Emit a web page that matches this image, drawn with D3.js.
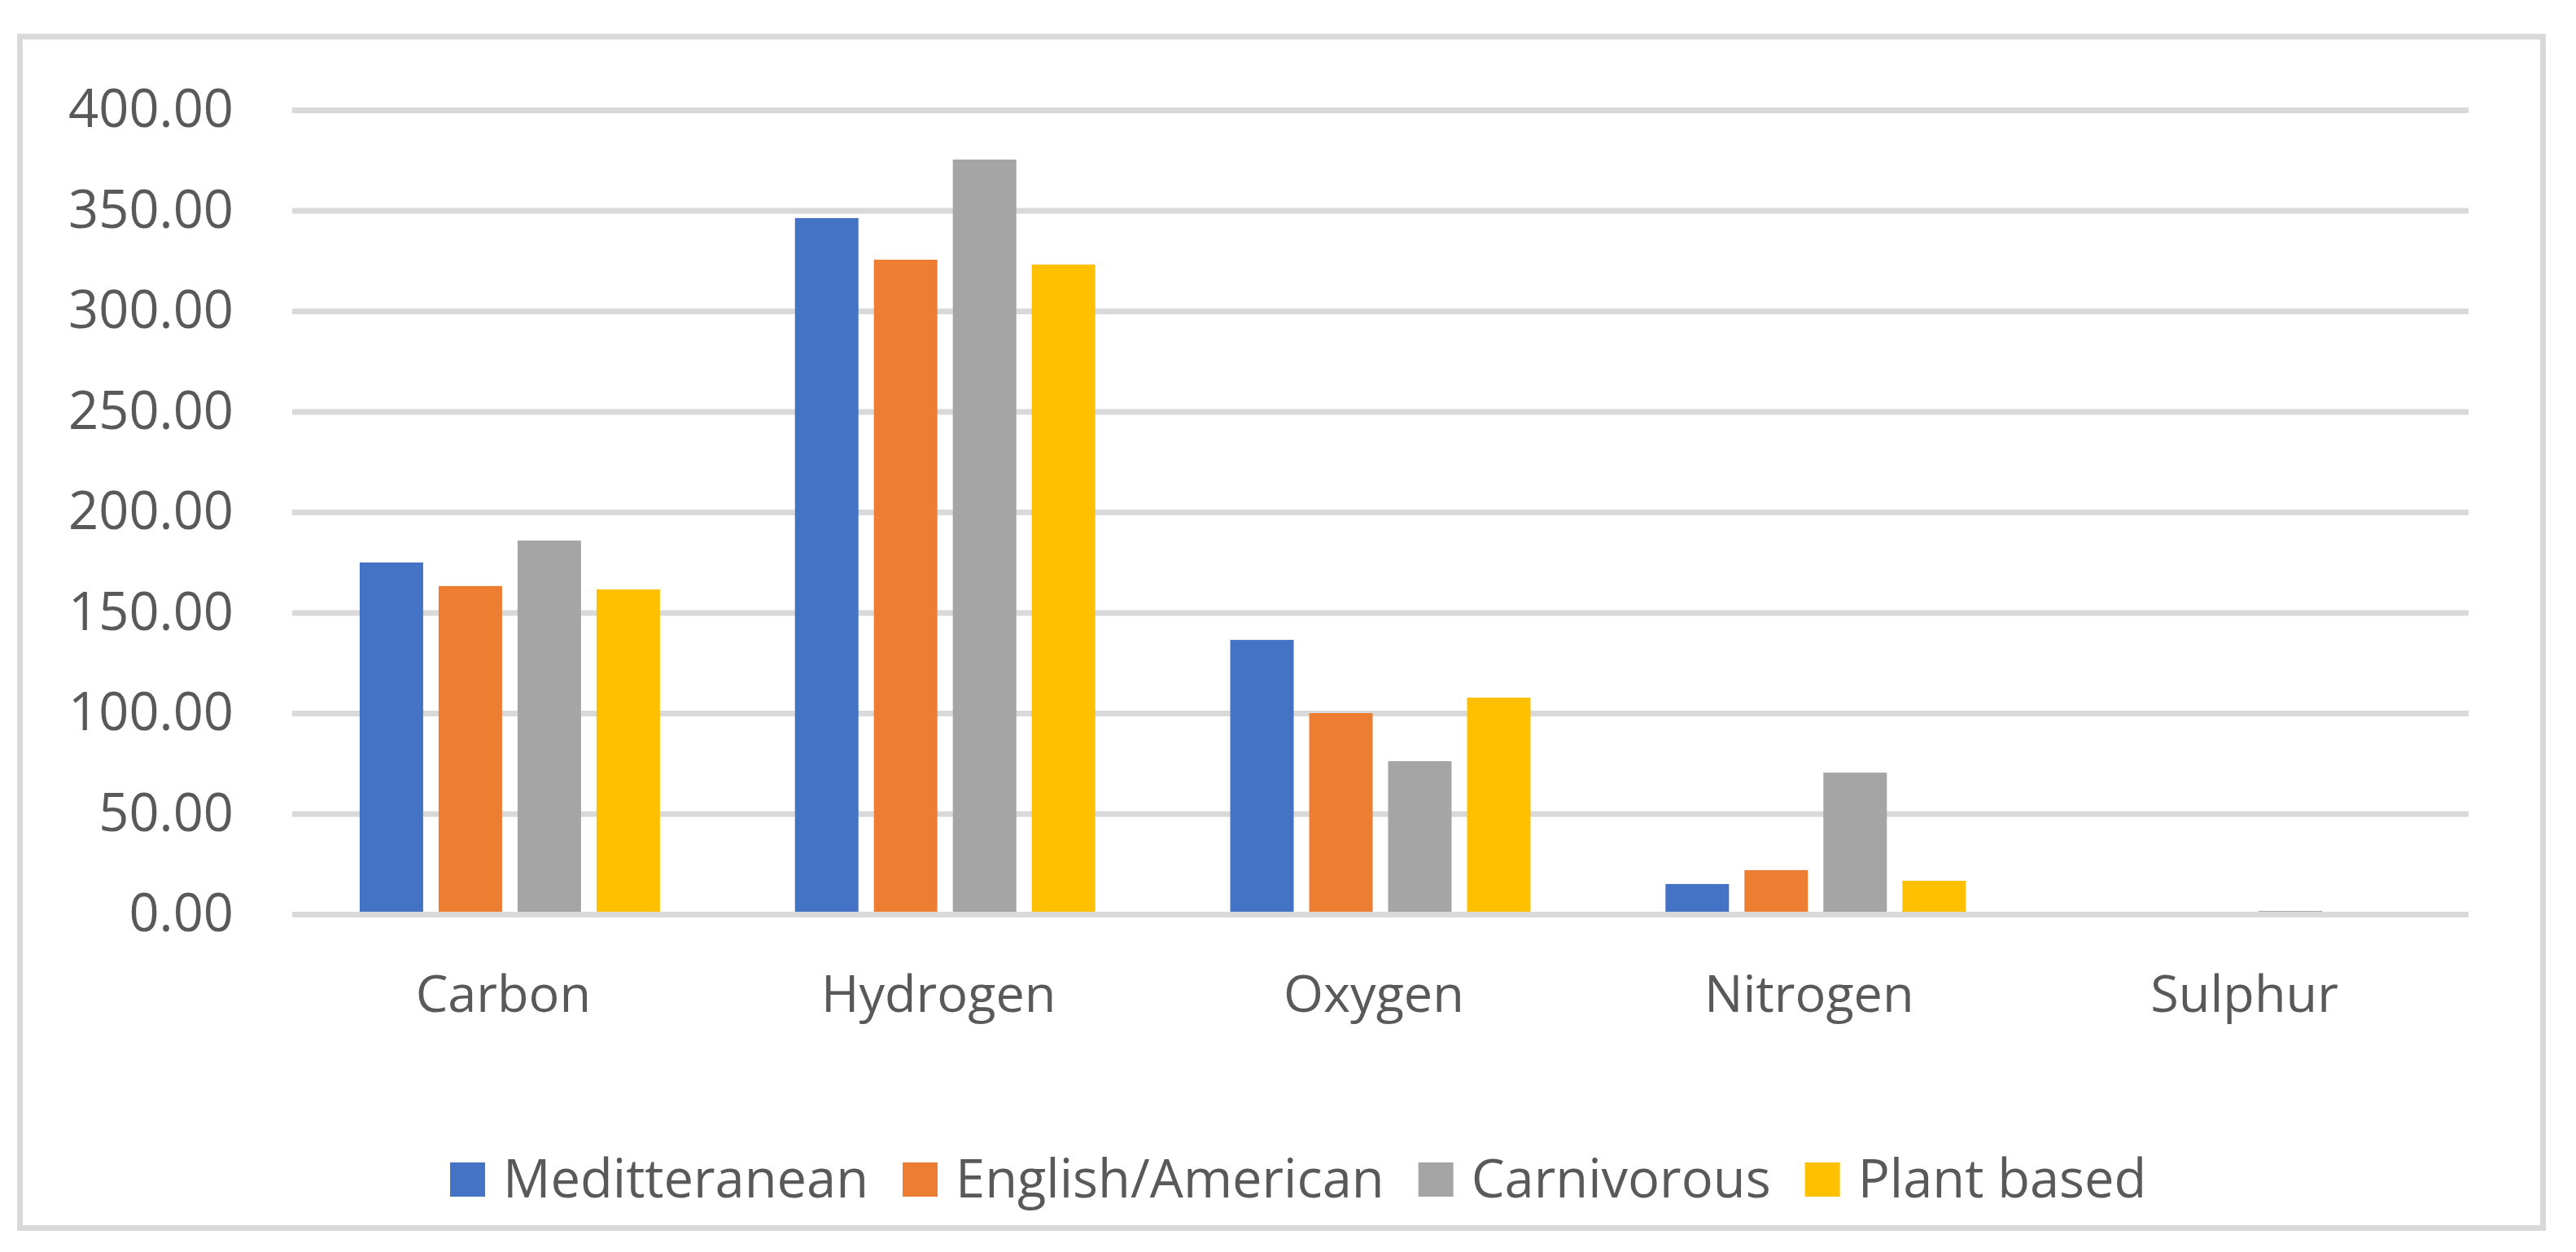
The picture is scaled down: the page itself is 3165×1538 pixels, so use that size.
<!DOCTYPE html>
<html>
<head>
<meta charset="utf-8">
<script src="https://cdn.jsdelivr.net/npm/d3@7"></script>
<style>
  html, body { margin: 0; padding: 0; background: #ffffff; }
  svg { display: block; }
  text { font-family: "Open Sans", "Noto Sans", sans-serif; fill: #595959; }
</style>
</head>
<body>
<svg id="chart" width="3165" height="1538"></svg>
<script>
// ---- data ----
const categories = ["Carbon", "Hydrogen", "Oxygen", "Nitrogen", "Sulphur"];
const seriesNames = ["Meditteranean", "English/American", "Carnivorous", "Plant based"];
const seriesColors = ["#4472C4", "#ED7D31", "#A5A5A5", "#FFC000"];
const mediterranean   = [175.1, 346.4, 136.6, 15.2, 0.1];
const englishAmerican = [163.4, 325.7, 100.2, 22.1, 0.1];
const carnivorous     = [186.0, 375.5, 76.3, 70.6, 1.8];
const plantBased      = [161.7, 323.3, 107.9, 16.8, 0.1];
const seriesValues = [mediterranean, englishAmerican, carnivorous, plantBased];
const yTicks = [0, 50, 100, 150, 200, 250, 300, 350, 400];

// ---- layout ----
const svg = d3.select("#chart");
const plot = { left: 359, right: 3033, top: 135.5, bottom: 1123.5 };

svg.append("rect")
  .attr("x", 24.5).attr("y", 45)
  .attr("width", 3100).attr("height", 1463.5)
  .attr("fill", "#ffffff")
  .attr("stroke", "#D9D9D9").attr("stroke-width", 7);

const x0 = d3.scaleBand().domain(categories).range([plot.left, plot.right]).paddingInner(0).paddingOuter(0);
const x1 = d3.scaleBand().domain(seriesNames).range([0, x0.bandwidth()]).paddingInner(0.196).paddingOuter(0.855);
const y = d3.scaleLinear().domain([0, 400]).range([plot.bottom, plot.top]);

// gridlines
svg.append("g").selectAll("line").data(yTicks.filter(d => d !== 0)).join("line")
  .attr("x1", plot.left).attr("x2", plot.right)
  .attr("y1", d => y(d)).attr("y2", d => y(d))
  .attr("stroke", "#D9D9D9").attr("stroke-width", 7);

// y tick labels
const fmt = d3.format(".2f");
svg.append("g").selectAll("text").data(yTicks).join("text")
  .attr("x", 287).attr("y", d => y(d) - 2)
  .attr("dy", "0.35em")
  .attr("text-anchor", "end")
  .attr("font-size", 65)
  .text(d => fmt(d));

// bars
const flat = [];
categories.forEach((c, ci) => seriesNames.forEach((s, si) => flat.push({ c, s, si, v: seriesValues[si][ci] })));
svg.append("g").selectAll("rect").data(flat).join("rect")
  .attr("x", d => x0(d.c) + x1(d.s))
  .attr("width", x1.bandwidth())
  .attr("y", d => y(d.v))
  .attr("height", d => y(0) - y(d.v))
  .attr("fill", d => seriesColors[d.si]);

// zero axis line
svg.append("line")
  .attr("x1", plot.left).attr("x2", plot.right)
  .attr("y1", y(0)).attr("y2", y(0))
  .attr("stroke", "#D9D9D9").attr("stroke-width", 7);

// category labels
svg.append("g").selectAll("text").data(categories).join("text")
  .attr("x", d => x0(d) + x0.bandwidth() / 2 - 8)
  .attr("y", 1243)
  .attr("text-anchor", "middle")
  .attr("font-size", 63)
  .text(d => d);

// legend
const legend = svg.append("g");
let lx = 553;
seriesNames.forEach((name, i) => {
  legend.append("rect")
    .attr("x", lx).attr("y", 1428)
    .attr("width", 43).attr("height", 42)
    .attr("fill", seriesColors[i]);
  const t = legend.append("text")
    .attr("x", lx + 65).attr("y", 1471)
    .attr("font-size", 65)
    .text(name);
  lx = lx + 65 + t.node().getComputedTextLength() + 42;
});
</script>
</body>
</html>
